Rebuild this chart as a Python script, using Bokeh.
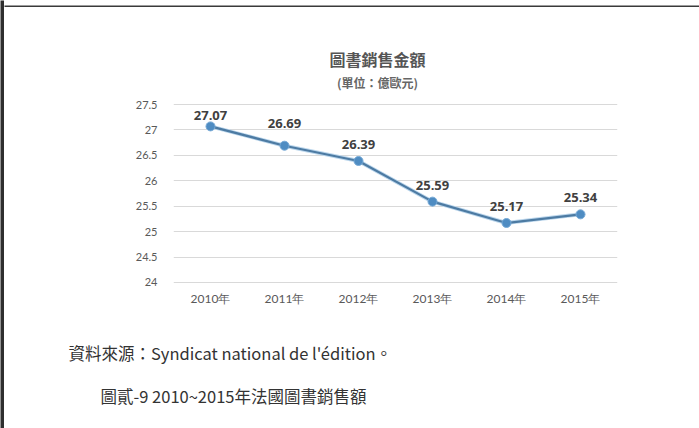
from bokeh.plotting import figure
from bokeh.layouts import column, row
from bokeh.models import (ColumnDataSource, FactorRange, Range1d, FixedTicker,
                          CustomJSTickFormatter, LabelSet)
from bokeh.core.properties import value
from bokeh.embed import file_html
from bokeh.resources import INLINE

years = ["2010年", "2011年", "2012年", "2013年", "2014年", "2015年"]
sales = [27.07, 26.69, 26.39, 25.59, 25.17, 25.34]
y_ticks = [24, 24.5, 25, 25.5, 26, 26.5, 27, 27.5]
value_labels = ["27.07", "26.69", "26.39", "25.59", "25.17", "25.34"]
label_offsets = [6, 18, 12, 12, 12, 12]

chart_title = "圖書銷售金額"
chart_subtitle = "(單位：億歐元)"
source_note = "資料來源：Syndicat national de l'édition。"
caption = "圖貳-9  2010~2015年法國圖書銷售額"

W = 695


def blank(width, height, color, xr=None, yr=None):
    f = figure(width=width, height=height, output_backend="svg", toolbar_location=None,
               x_range=xr if xr is not None else Range1d(0, max(width, 1)),
               y_range=yr if yr is not None else Range1d(max(height, 1), 0),
               x_axis_type=None, y_axis_type=None, min_border=0, frame_align=False)
    f.outline_line_color = None
    f.grid.visible = False
    f.background_fill_color = color
    f.border_fill_color = color
    return f


# dark screenshot edges
left_bar = blank(4, 428, "#2E2E2E")
top_bar = blank(W, 7, "#3A3A3A")

# ---- top: chart titles ----
top = blank(W, 89, "white")
top.text(x=[373], y=[51], text=[chart_title], text_align="center", text_baseline="middle",
         text_font=value("Noto Sans CJK TC"), text_font_size="16px",
         text_font_style="bold", text_color="#555555")
top.text(x=[373], y=[75], text=[chart_subtitle], text_align="center", text_baseline="middle",
         text_font=value("Noto Sans CJK TC"), text_font_size="12px",
         text_font_style="bold", text_color="#666666")

# ---- main chart ----
src = ColumnDataSource(dict(x=years, y=sales, lab=value_labels, off=label_offsets))

p = figure(width=W, height=224, output_backend="svg", toolbar_location=None,
           x_range=FactorRange(*years, range_padding=0),
           y_range=Range1d(23.98, 27.52),
           min_border_left=169, min_border_right=82,
           min_border_top=7, min_border_bottom=37, frame_align=False)
p.outline_line_color = None
p.xgrid.grid_line_color = None
p.ygrid.grid_line_color = "#D9D9D9"
p.ygrid.grid_line_width = 1
p.yaxis.ticker = FixedTicker(ticks=y_ticks)
p.yaxis.formatter = CustomJSTickFormatter(code="return String(tick);")

for ax in (p.xaxis, p.yaxis):
    ax.axis_line_color = None
    ax.major_tick_line_color = None
    ax.minor_tick_line_color = None
    ax.major_label_text_color = "#595959"
    ax.major_label_text_font = "Lato"
p.yaxis.major_label_text_font_size = "11px"
p.yaxis.major_label_standoff = 10
p.xaxis.major_label_text_font_size = "12px"
p.xaxis.major_label_standoff = 1

p.line("x", "y", source=src, line_color="#BBD6EC", line_width=4)
p.line("x", "y", source=src, line_color="#4D7BA3", line_width=2.2)
p.scatter("x", "y", source=src, size=9, fill_color="#4F8CC2", line_color="#76A9D6", line_width=1)

labels = LabelSet(x="x", y="y", text="lab", source=src, y_offset="off",
                  text_align="center", text_baseline="bottom",
                  text_font=value("Open Sans"), text_font_size="13px", text_font_style="bold",
                  text_color="#404040")
p.add_layout(labels)

# ---- bottom: source and caption ----
bot = blank(W, 108, "white")
bot.text(x=[64], y=[32], text=[source_note], text_align="left", text_baseline="middle",
         text_font=value("Noto Sans CJK TC"), text_font_size="16.5px", text_color="#333333")
bot.text(x=[96], y=[75], text=[caption], text_align="left", text_baseline="middle",
         text_font=value("Noto Sans CJK TC"), text_font_size="16.5px", text_color="#333333")

right_col = column(top_bar, top, p, bot, spacing=0, styles={"background-color": "white"})
layout = row(left_bar, right_col, spacing=0, styles={"background-color": "white"})

open("out.html", "w").write(file_html(layout, INLINE))
